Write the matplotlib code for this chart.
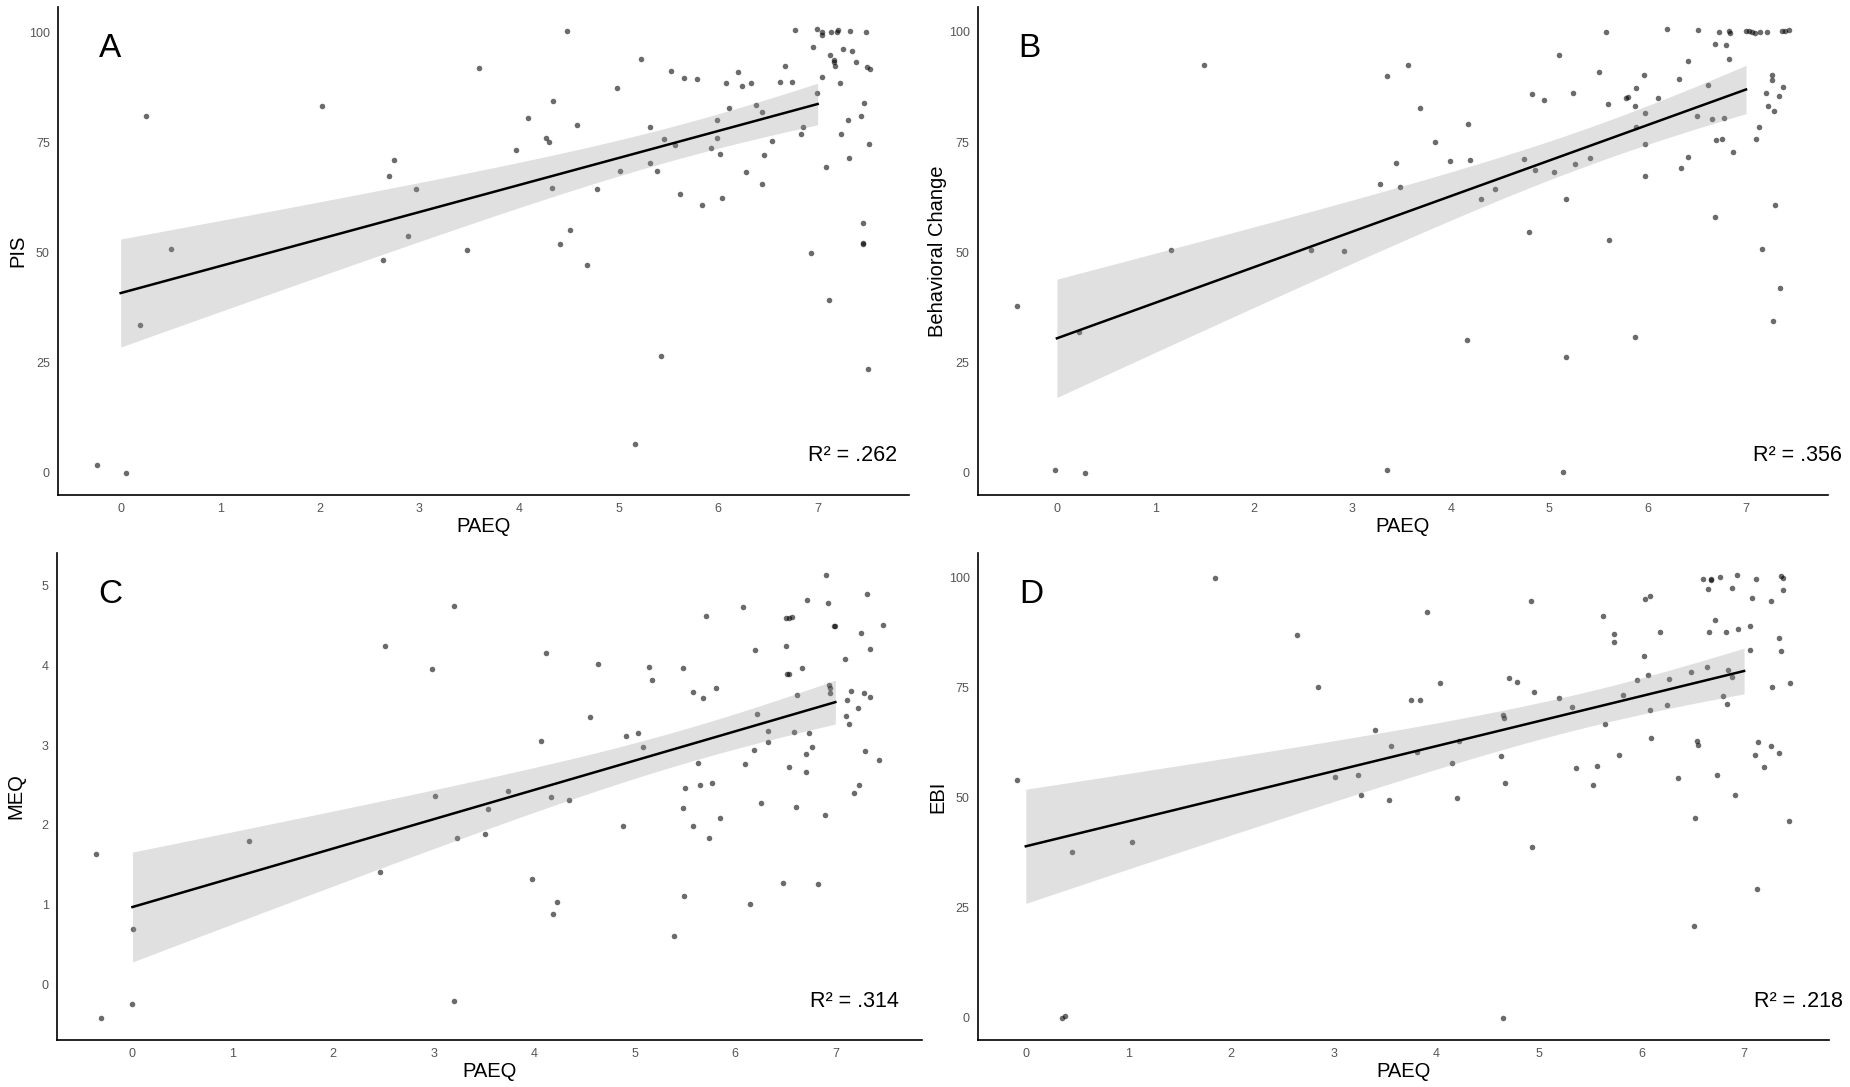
import numpy as np
import matplotlib
matplotlib.use("Agg")
import matplotlib.pyplot as plt

plt.rcParams['font.family'] = ['Liberation Sans', 'DejaVu Sans']

# === DONNÉES (points avec jitter) ===
pis_x = [0.25, 2.02, 0.51, 0.19, 2.75, 2.69, 2.97, 2.63, 2.89, -0.24, 0.05,
         4.48, 3.60, 5.23, 4.98, 5.53, 5.66, 5.79, 6.08, 6.20, 6.24, 6.33, 6.62, 6.67,
         4.34, 4.09, 4.58, 4.27, 4.30, 3.97, 5.32, 5.46, 5.57, 5.99, 6.11, 6.38, 6.44,
         5.99, 5.93, 6.02, 6.54, 6.46, 6.28, 6.44, 6.04, 5.84, 5.62, 5.32, 5.02, 5.39,
         4.78, 4.33, 3.48, 4.51, 4.41, 4.68, 5.43, 5.17,
         6.77, 6.99, 7.04, 7.04, 7.13, 7.19, 7.20, 7.33, 7.49, 6.95, 7.12, 7.25, 7.35,
         7.16, 7.16, 7.17, 7.39, 7.50, 7.53, 6.74, 7.04, 7.22, 6.99, 7.47, 7.44, 7.30,
         6.85, 6.83, 7.23, 7.52, 7.31, 7.08, 7.46, 7.46, 7.46, 6.93, 7.11, 7.51]
pis_y = [81.1, 83.3, 50.8, 33.6, 71.1, 67.3, 64.5, 48.4, 53.8, 1.7, 0.0,
         100.3, 91.8, 94.0, 87.4, 91.2, 89.7, 89.4, 88.4, 91.0, 87.9, 88.4, 88.8, 92.3,
         84.4, 80.6, 79.0, 76.1, 75.1, 73.3, 78.5, 75.7, 74.5, 80.0, 82.9, 83.4, 81.9,
         75.9, 73.7, 72.4, 75.4, 72.2, 68.3, 65.5, 62.3, 60.8, 63.3, 70.4, 68.4, 68.5,
         64.4, 64.6, 50.5, 55.1, 51.9, 47.1, 26.6, 6.6,
         100.5, 100.7, 100.0, 99.4, 100.0, 100.0, 100.6, 100.3, 100.0, 96.6, 94.9, 96.1, 95.7,
         93.7, 93.2, 92.3, 93.3, 92.2, 91.7, 88.6, 89.9, 88.5, 86.3, 83.9, 81.0, 80.1,
         78.4, 77.0, 76.9, 74.7, 71.4, 69.5, 56.6, 52.2, 52.0, 50.0, 39.2, 23.5]

bc_x = [-0.41, -0.02, 0.29, 0.22, 1.16, 1.49, 2.58, 2.92, 3.28, 3.48, 3.44, 3.35, 3.57,
        3.69, 3.84, 3.35,
        4.18, 3.99, 4.20, 4.31, 4.45, 4.17, 4.83, 4.95, 5.10, 5.24, 4.74, 4.86, 5.05,
        5.26, 5.42, 5.17, 4.80, 5.61, 5.17, 5.14, 5.58, 5.51, 5.60, 5.78, 5.80, 5.88,
        5.96, 5.87, 5.97, 5.88, 5.97, 5.97, 5.87, 6.11,
        6.20, 6.51, 6.73, 6.83, 6.84, 7.00, 7.03, 7.06, 7.09, 7.14, 7.21, 7.37, 7.40,
        7.44, 6.68, 6.80, 6.83, 6.41, 6.32, 6.61, 6.50, 6.65, 6.78, 6.70, 6.76, 6.87,
        6.41, 6.34, 6.68, 7.26, 7.26, 7.38, 7.20, 7.33, 7.22, 7.28, 7.13, 7.10, 7.29,
        7.16, 7.35, 7.27]
bc_y = [37.9, 0.6, 0.0, 32.0, 50.6, 92.4, 50.5, 50.4, 65.4, 64.8, 70.3, 89.9, 92.4,
        82.7, 74.9, 0.75,
        79.0, 70.7, 71.0, 62.1, 64.4, 30.2, 85.9, 84.6, 94.8, 86.1, 71.2, 68.7, 68.3,
        70.1, 71.3, 62.0, 54.6, 52.9, 26.3, 0.1, 99.9, 90.8, 83.7, 85.0, 85.3, 87.2,
        90.2, 83.1, 81.5, 78.4, 74.6, 67.3, 30.7, 84.9,
        100.6, 100.3, 100.0, 100.2, 99.8, 100.2, 100.2, 100.0, 99.8, 100.0, 100.0, 100.2, 100.2,
        100.3, 97.3, 97.0, 93.9, 93.3, 89.4, 88.0, 80.9, 80.2, 80.5, 75.4, 75.7, 72.7,
        71.7, 69.2, 58.0, 90.1, 89.1, 87.4, 86.1, 85.4, 83.1, 82.1, 78.5, 75.6, 60.7,
        50.8, 41.9, 34.4]

meq_x = [-0.36, -0.31, 0.00, 0.01, 1.16, 2.47, 2.52, 2.98, 3.20, 3.01, 3.23, 3.51, 3.54,
         3.74, 3.20, 3.98, 4.07, 4.12, 4.17, 4.23, 4.19,
         4.35, 4.56, 4.64, 4.89, 4.92, 5.03, 5.08, 5.14, 5.17, 5.39, 5.48, 5.49, 5.48,
         5.50, 5.58, 5.58, 5.63, 5.65, 5.68, 5.71, 5.74, 5.77, 5.81, 5.85, 6.08, 6.10,
         6.15, 6.19, 6.20, 6.22, 6.26, 6.33, 6.33, 6.48, 6.51, 6.54, 6.57, 6.51, 6.52,
         6.54, 6.54, 6.59, 6.61, 6.62, 6.67, 6.71, 6.71, 6.72, 6.74, 6.77, 6.83, 6.90,
         6.91, 6.93, 6.94, 6.95, 6.95, 6.99, 7.00, 7.10, 7.11, 7.12, 7.14, 7.16, 7.19,
         7.23, 7.24, 7.26, 7.29, 7.30, 7.32, 7.35, 7.35, 7.43, 7.47]
meq_y = [1.64, -0.42, -0.25, 0.69, 1.80, 1.41, 4.24, 3.96, 4.75, 2.36, 1.84, 1.89, 2.20,
         2.43, -0.21, 1.32, 3.05, 4.16, 2.35, 1.03, 0.88,
         2.31, 3.35, 4.02, 1.99, 3.12, 3.15, 2.97, 3.98, 3.82, 0.61, 3.97, 1.11, 2.21,
         2.46, 1.98, 3.67, 2.77, 2.50, 3.59, 4.62, 1.83, 2.53, 3.72, 2.08, 4.73, 2.76,
         1.01, 2.94, 4.19, 3.39, 2.27, 3.04, 3.18, 1.27, 4.59, 4.59, 4.60, 4.24, 3.89,
         3.89, 2.73, 3.16, 2.22, 3.63, 3.97, 2.66, 2.89, 4.82, 3.15, 2.97, 1.26, 2.12,
         5.13, 4.78, 3.75, 3.71, 3.65, 4.49, 4.49, 4.08, 3.37, 3.57, 3.27, 3.68, 2.40,
         3.47, 2.50, 4.41, 3.65, 2.92, 4.90, 4.21, 3.60, 2.81, 4.50]

ebi_x = [-0.09, 0.35, 0.38, 0.45, 1.03, 1.84, 2.64, 2.85, 3.01, 3.24, 3.27, 3.40, 3.54,
         3.56, 3.75, 3.84, 3.81, 3.91, 4.04,
         4.22, 4.15, 4.20, 4.63, 4.65, 4.66, 4.67, 4.65, 4.71, 4.79, 4.92, 4.95, 4.93,
         5.20, 5.32, 5.36, 5.53, 5.57, 5.63, 5.64, 5.73, 5.73, 5.78, 5.82, 5.96, 6.02,
         6.03, 6.08, 6.06, 6.08, 6.09, 6.18, 6.25, 6.27, 6.36, 6.48, 6.51, 6.52, 6.54,
         6.55, 6.60, 6.65, 6.68, 6.68, 6.66, 6.72, 6.64, 6.77, 6.74, 6.79, 6.83, 6.82,
         6.84, 6.88, 6.88, 6.91, 6.93, 6.94, 7.06, 7.06, 7.08, 7.11, 7.12, 7.14, 7.13,
         7.19, 7.26, 7.26, 7.27, 7.34, 7.34, 7.36, 7.38, 7.36, 7.38, 7.44, 7.45]
ebi_y = [54.0, 0.0, 0.5, 37.6, 40.0, 99.9, 86.9, 75.2, 54.8, 55.2, 50.6, 65.5, 49.5,
         61.9, 72.3, 72.3, 60.4, 92.3, 76.0,
         62.9, 57.9, 49.9, 59.5, 68.8, 68.2, 53.3, 0.0, 77.3, 76.4, 94.7, 74.0, 38.9,
         72.6, 70.7, 56.7, 53.0, 57.3, 91.3, 66.7, 87.3, 85.4, 59.7, 73.3, 76.7, 82.3,
         95.1, 95.8, 77.9, 70.0, 63.6, 87.8, 71.0, 76.9, 54.5, 78.6, 20.9, 45.5, 62.9,
         62.0, 99.7, 97.5, 99.4, 99.8, 87.6, 90.5, 79.8, 100.2, 55.3, 73.2, 71.4, 87.8,
         79.0, 77.5, 97.6, 50.7, 100.6, 88.3, 89.0, 83.5, 95.4, 59.7, 99.8, 62.7, 29.4,
         57.0, 61.9, 94.8, 75.3, 60.1, 86.4, 100.5, 100.0, 83.3, 97.3, 44.8, 76.0]

# droites de régression (ordonnée à l'origine, pente)
fit_intercept = [40.8, 30.5, 0.97, 39.0]
fit_slope = [6.13, 8.06, 0.367, 5.69]

panel_letters = ["A", "B", "C", "D"]
y_labels = ["PIS", "Behavioral Change", "MEQ", "EBI"]
r2_labels = ["R\u00b2 = .262", "R\u00b2 = .356", "R\u00b2 = .314", "R\u00b2 = .218"]
all_x = [pis_x, bc_x, meq_x, ebi_x]
all_y = [pis_y, bc_y, meq_y, ebi_y]

# positions des panneaux (fraction de figure)
boxes = [
    [0.0314, 0.5446, 0.4600, 0.449],
    [0.5286, 0.5446, 0.4595, 0.449],
    [0.0308, 0.0432, 0.4675, 0.448],
    [0.5286, 0.0432, 0.4600, 0.448],
]
r2_xpos = [0.986, 1.016, 0.973, 1.016]

fig = plt.figure(figsize=(18.5, 10.87), dpi=100)

for i in range(4):
    ax = fig.add_axes(boxes[i])
    xs = np.array(all_x[i])
    ys = np.array(all_y[i])

    ax.scatter(xs, ys, s=16, color="black", alpha=0.58, linewidths=0, zorder=2)

    # droite + IC 95 %
    b0, b1 = fit_intercept[i], fit_slope[i]
    n = len(xs)
    resid = ys - (b0 + b1 * xs)
    s_err = np.sqrt(np.sum(resid ** 2) / (n - 2))
    sxx = np.sum((xs - xs.mean()) ** 2)
    xf = np.linspace(0, 7, 200)
    yf = b0 + b1 * xf
    se = s_err * np.sqrt(1 / n + (xf - xs.mean()) ** 2 / sxx)
    ax.fill_between(xf, yf - 1.985 * se, yf + 1.985 * se, color="#999999",
                    alpha=0.3, linewidth=0, zorder=3)
    ax.plot(xf, yf, color="black", lw=1.8, zorder=4)

    ax.margins(0.05)
    for side in ["top", "right"]:
        ax.spines[side].set_visible(False)
    for side in ["left", "bottom"]:
        ax.spines[side].set_linewidth(1.2)
    ax.tick_params(length=0, pad=6, labelsize=9, labelcolor="#555555")
    ax.set_xticks(range(0, 8))
    if panel_letters[i] == "C":
        ax.set_yticks(range(0, 6))
    else:
        ax.set_yticks([0, 25, 50, 75, 100])

    ax.set_xlabel("PAEQ", fontsize=14.5)
    ax.set_ylabel(y_labels[i], fontsize=14.5)
    ax.xaxis.set_label_coords(0.5, -0.045)
    ax.yaxis.set_label_coords(-0.036, 0.5)

    ax.text(0.048, 0.915, panel_letters[i], transform=ax.transAxes, fontsize=24,
            ha="left", va="center")
    ax.text(r2_xpos[i], 0.08, r2_labels[i], transform=ax.transAxes, fontsize=15.5,
            ha="right", va="center", clip_on=False)

plt.savefig("out.png", dpi=100)
